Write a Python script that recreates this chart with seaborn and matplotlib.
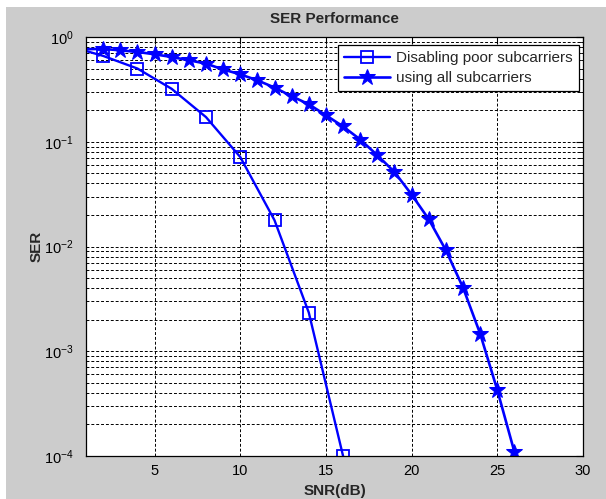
import matplotlib
matplotlib.use("Agg")
import matplotlib.pyplot as plt
from matplotlib.patches import Rectangle
from matplotlib.ticker import LogLocator, NullFormatter
import pandas as pd
import seaborn as sns

# SNR (dB) and SER values
snr_disable = [0, 2, 4, 6, 8, 10, 12, 14, 16]
ser_disable = [0.82, 0.66, 0.50, 0.32, 0.172, 0.0715, 0.0178, 0.00234, 0.0001]

snr_all = [1, 2, 3, 4, 5, 6, 7, 8, 9, 10, 11, 12, 13, 14,
           15, 16, 17, 18, 19, 20, 21, 22, 23, 24, 25, 26]
ser_all = [0.765, 0.77, 0.746, 0.72, 0.684, 0.644, 0.60, 0.557, 0.49, 0.44,
           0.386, 0.329, 0.272, 0.228, 0.179, 0.140, 0.105, 0.0743, 0.0514,
           0.0313, 0.0182, 0.0092, 0.00405, 0.00147, 0.000426, 0.000109]

labels = ["Disabling poor subcarriers", "using all subcarriers"]
x_ticks = [5, 10, 15, 20, 25, 30]

sns.set_style("white")
plt.rcParams["font.family"] = ["Liberation Sans", "DejaVu Sans"]
plt.rcParams["mathtext.fontset"] = "custom"
plt.rcParams["mathtext.rm"] = "Liberation Sans"
plt.rcParams["font.size"] = 11

W, H = 606, 499
fig = plt.figure(figsize=(W / 100, H / 100), dpi=100, facecolor="white")
# matlab-style grey figure area (small white strip on top/left in screenshot)
fig.patches.append(Rectangle((6 / W, 0), 1 - 6 / W, 1 - 7 / H,
                             transform=fig.transFigure, facecolor="#cccccc",
                             edgecolor="none", zorder=-10))

ax = fig.add_axes([86 / W, 1 - 456 / H, (583 - 86) / W, (456 - 37) / H])
ax.set_facecolor("white")

df1 = pd.DataFrame({"snr": snr_disable, "ser": ser_disable})
df2 = pd.DataFrame({"snr": snr_all, "ser": ser_all})

sns.lineplot(data=df1, x="snr", y="ser", ax=ax, color="#0000ff", lw=1.7,
             marker="s", ms=8, mfc="none", mec="#0000ff", mew=1.3,
             markevery=slice(1, None), label=labels[0])
sns.lineplot(data=df2, x="snr", y="ser", ax=ax, color="#0000ff", lw=1.9,
             marker="*", ms=12, mfc="#0000ff", mec="#0000ff",
             markevery=slice(1, None), label=labels[1])

ax.set_yscale("log")
ax.set_xlim(1, 30)
ax.set_ylim(1e-4, 1)
ax.set_xticks(x_ticks)
ax.set_xticklabels([str(t) for t in x_ticks])
ax.yaxis.set_major_locator(LogLocator(base=10, numticks=10))
ax.yaxis.set_minor_locator(LogLocator(base=10, subs=range(2, 10), numticks=50))
ax.yaxis.set_minor_formatter(NullFormatter())

grid_style = dict(color="black", linestyle=(0, (3, 2)), linewidth=0.7)
ax.grid(True, axis="x", which="major", **grid_style)
ax.grid(True, axis="y", which="both", **grid_style)
ax.set_axisbelow(True)

ax.tick_params(which="both", direction="in", top=True, right=True,
               labelsize=10.5, colors="black")
ax.tick_params(axis="y", pad=9)
ax.tick_params(axis="x", pad=6)
ax.tick_params(which="major", length=5)
ax.tick_params(which="minor", length=3)
for sp in ax.spines.values():
    sp.set_visible(True)
    sp.set_color("black")
    sp.set_linewidth(0.9)

ax.set_title("SER Performance", fontsize=11, fontweight="bold", pad=10)
ax.set_xlabel("SNR(dB)", fontsize=11, fontweight="bold", labelpad=4)
ax.set_ylabel("SER", fontsize=11, fontweight="bold", labelpad=0)

leg = ax.legend(loc="upper right", bbox_to_anchor=(0.992, 0.981),
                borderaxespad=0, fancybox=False, framealpha=1,
                edgecolor="black", fontsize=11, handlelength=3,
                numpoints=1, borderpad=0.4, labelspacing=0.4,
                handletextpad=0.4)
leg.get_frame().set_linewidth(0.9)

fig.savefig("out.png", dpi=100, facecolor=fig.get_facecolor())
